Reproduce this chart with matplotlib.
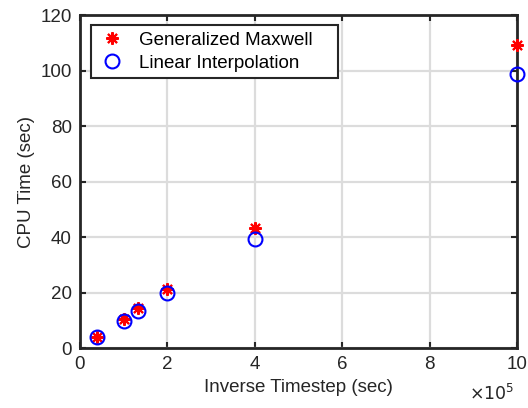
import matplotlib
matplotlib.use("Agg")
import matplotlib.pyplot as plt

plt.rcParams["font.family"] = ["Liberation Sans", "DejaVu Sans"]

inv_timestep = [0.4e5, 1.0e5, 1.33e5, 2.0e5, 4.0e5, 10.0e5]
cpu_maxwell = [4.0, 10.6, 14.3, 21.3, 43.2, 109.2]
cpu_linear = [3.9, 9.9, 13.5, 19.8, 39.4, 98.8]

x_ticks = [0, 2e5, 4e5, 6e5, 8e5, 10e5]
x_tick_labels = ["0", "2", "4", "6", "8", "10"]
y_ticks = [0, 20, 40, 60, 80, 100, 120]

fig = plt.figure(figsize=(5.28, 4.08), dpi=100)
ax = fig.add_axes([0.1515, 0.147, 0.8275, 0.816])

ax.grid(True, color="#dcdcdc", linewidth=1.6)
ax.set_axisbelow(True)

ax.plot(inv_timestep, cpu_maxwell, linestyle="none", marker=(8, 2, 0),
        markersize=9, markeredgewidth=1.5, color="red",
        label="Generalized Maxwell", zorder=3, clip_on=False)
ax.plot(inv_timestep, cpu_linear, linestyle="none", marker="o",
        markersize=10, markeredgewidth=1.5, markerfacecolor="none",
        markeredgecolor="blue", label="Linear Interpolation", zorder=3,
        clip_on=False)

ax.set_xlim(0, 10e5)
ax.set_ylim(0, 120)
ax.set_xticks(x_ticks)
ax.set_xticklabels(x_tick_labels)
ax.set_yticks(y_ticks)
ax.tick_params(direction="in", length=4, width=1.5, labelsize=13.5,
               top=True, right=True, colors="#262626", pad=6)
for s in ax.spines.values():
    s.set_linewidth(2)
    s.set_color("#262626")

ax.set_xlabel("Inverse Timestep (sec)", fontsize=13.5, color="#262626")
ax.set_ylabel("CPU Time (sec)", fontsize=13.5, color="#262626")
ax.text(0.995, -0.105, r"$\times10^{5}$", transform=ax.transAxes,
        ha="right", va="top", fontsize=12.5, color="#262626")

leg = ax.legend(loc="upper left", bbox_to_anchor=(0.025, 0.5, 0.565, 0.47),
                mode="expand", fontsize=13.5, frameon=True, fancybox=False,
                borderaxespad=0, handletextpad=0.6, borderpad=0.35,
                labelspacing=0.3, handlelength=1.6)
leg.get_frame().set_edgecolor("#262626")
leg.get_frame().set_linewidth(1.5)
leg.get_frame().set_alpha(1)

fig.savefig("out.png", dpi=100)
